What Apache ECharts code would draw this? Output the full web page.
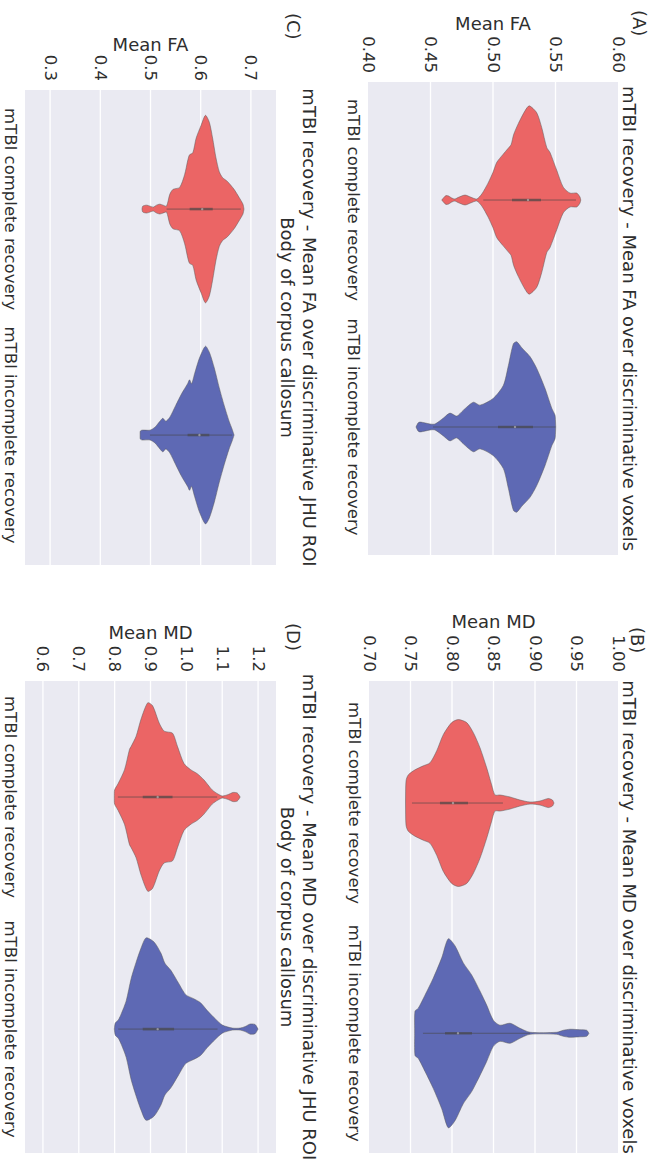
<!DOCTYPE html>
<html><head><meta charset="utf-8">
<script src="https://cdn.jsdelivr.net/npm/echarts@6/dist/echarts.min.js"></script>
<style>
html,body{margin:0;padding:0;width:663px;height:1168px;overflow:hidden;background:#fff;}
#chart{position:absolute;left:0;top:0;width:1168px;height:663px;transform-origin:0 0;transform:translate(663px,0) rotate(90deg);}
</style></head><body><div id="chart"></div>
<script>
// ---------- data ----------
const categories = ['mTBI complete recovery', 'mTBI incomplete recovery'];
const panelLetters = ['(A)', '(B)', '(C)', '(D)'];
const panelTitles = [
  ['mTBI recovery - Mean FA over discriminative voxels'],
  ['mTBI recovery - Mean MD over discriminative voxels'],
  ['mTBI recovery - Mean FA over discriminative JHU ROI', 'Body of corpus callosum'],
  ['mTBI recovery - Mean MD over discriminative JHU ROI', 'Body of corpus callosum']
];
const yNames = ['Mean FA', 'Mean MD', 'Mean FA', 'Mean MD'];

// tick labels
const faVoxTicks = [0.40, 0.45, 0.50, 0.55, 0.60];
const mdVoxTicks = [0.70, 0.75, 0.80, 0.85, 0.90, 0.95, 1.00];
const faRoiTicks = [0.3, 0.4, 0.5, 0.6, 0.7];
const mdRoiTicks = [0.6, 0.7, 0.8, 0.9, 1.0, 1.1, 1.2];

// violin profiles: [value, relative density (half width)]
const faVoxComplete = [[0.4590,0],[0.4610,3],[0.4624,4.5],[0.4645,4],[0.4670,2],[0.4696,1],[0.4720,2.5],[0.4776,5],[0.4820,3],[0.4870,1],[0.4910,6],[0.4960,17],[0.5000,28],[0.5030,38],[0.5080,46],[0.5120,52],[0.5145,56],[0.5165,66],[0.5202,77],[0.5256,90],[0.5290,95],[0.5350,88],[0.5390,73],[0.5430,53],[0.5456,48],[0.5510,30],[0.5562,13],[0.5616,7],[0.5670,7],[0.5696,3],[0.5702,0]];
const faVoxIncomplete = [[0.4384,0],[0.4400,4],[0.4416,5],[0.4460,4],[0.4496,3],[0.4536,3],[0.4603,9],[0.4656,14],[0.4710,11],[0.4763,17],[0.4843,25],[0.4896,22],[0.5003,29],[0.5083,42],[0.5123,62],[0.5163,84],[0.5190,86],[0.5230,80],[0.5296,71],[0.5350,59],[0.5416,39],[0.5470,19],[0.5496,12],[0.5500,6],[0.5502,0]];
const mdVoxComplete = [[0.7440,0],[0.7446,22],[0.7473,28],[0.7554,33],[0.7654,37],[0.7735,40],[0.7816,52],[0.7895,68],[0.7996,80],[0.8076,83],[0.8177,80],[0.8257,70],[0.8337,55],[0.8418,35],[0.8478,18],[0.8518,8],[0.8578,8],[0.8699,6],[0.8819,3],[0.8940,1],[0.9060,2],[0.9160,4.5],[0.9210,3],[0.9229,0]];
const mdVoxIncomplete = [[0.7550,0],[0.7554,22],[0.7594,25],[0.7675,38],[0.7775,55],[0.7876,75],[0.7955,94],[0.8036,87],[0.8136,70],[0.8237,58],[0.8337,42],[0.8418,28],[0.8498,13],[0.8578,8],[0.8699,10],[0.8819,5],[0.8940,1],[0.9261,1],[0.9341,3],[0.9422,4],[0.9542,3.5],[0.9623,3],[0.9650,0]];
const faRoiComplete = [[0.4830,0],[0.4846,3],[0.4925,4],[0.4990,3],[0.5055,2],[0.5120,4],[0.5187,5],[0.5250,4],[0.5319,3],[0.5384,15],[0.5449,20],[0.5581,22],[0.5680,35],[0.5745,50],[0.5778,55],[0.5843,57],[0.5910,72],[0.6009,85],[0.6094,95],[0.6172,88],[0.6237,72],[0.6304,52],[0.6369,38],[0.6434,32],[0.6533,28],[0.6665,20],[0.6763,12],[0.6842,5],[0.6862,0]];
const faRoiIncomplete = [[0.4793,0],[0.4797,4],[0.4833,5],[0.4990,5],[0.5089,8],[0.5187,14],[0.5246,17],[0.5305,14],[0.5384,18],[0.5502,30],[0.5621,42],[0.5739,52],[0.5778,56],[0.5818,52],[0.5877,62],[0.5975,78],[0.6094,90],[0.6172,84],[0.6271,68],[0.6369,48],[0.6468,30],[0.6566,14],[0.6626,6],[0.6665,0]];
const mdRoiComplete = [[0.7990,0],[0.7999,7],[0.8093,13],[0.8276,27],[0.8414,47],[0.8461,50],[0.8599,60],[0.8737,77],[0.8923,93],[0.9061,90],[0.9243,73],[0.9382,65],[0.9614,63],[0.9752,50],[0.9935,33],[1.0120,27],[1.0305,23],[1.0488,17],[1.0720,7],[1.0880,3],[1.1005,1],[1.1170,2.5],[1.1300,4.5],[1.1420,4],[1.1502,0]];
const mdRoiIncomplete = [[0.7991,0],[0.8018,6],[0.8101,9],[0.8184,15],[0.8323,28],[0.8461,50],[0.8599,66],[0.8737,80],[0.8876,90],[0.9097,86],[0.9290,75],[0.9401,65],[0.9567,58],[0.9788,45],[0.9982,34],[1.0203,30],[1.0396,26],[1.0590,18],[1.0811,10],[1.1005,4],[1.1281,1],[1.1502,1],[1.1640,2.5],[1.1779,5],[1.1917,4.5],[1.2000,0]];

// inner box: [whisker low, q1, median, q3, whisker high]
const faVoxCompleteBox = [0.4922, 0.5152, 0.5280, 0.5384, 0.5664];
const faVoxIncompleteBox = [0.4520, 0.5040, 0.5176, 0.5320, 0.5500];
const mdVoxCompleteBox = [0.7518, 0.7855, 0.8012, 0.8193, 0.8614];
const mdVoxIncompleteBox = [0.7650, 0.7916, 0.8072, 0.8241, 0.8940];
const faRoiCompleteBox = [0.5320, 0.5780, 0.6030, 0.6240, 0.6800];
const faRoiIncompleteBox = [0.4990, 0.5739, 0.5975, 0.6172, 0.6626];
const mdRoiCompleteBox = [0.8090, 0.8784, 0.9200, 0.9614, 1.0858];
const mdRoiIncompleteBox = [0.8100, 0.8784, 0.9200, 0.9658, 1.0870];

// ---------- layout / style ----------
const FONT = '"DejaVu Sans", sans-serif';
const TEXT = '#2e2e2e';
const COLORS = ['#EB6565', '#5E69B4'];
const DENS_SCALE = 229; // density units per category unit

const panels = [
  {grid:{left:82, top:45, width:473, height:250}, xMin:-0.52, xMax:1.564,
   min:0.40, max:0.60, interval:0.05, ticks:faVoxTicks, dec:2,
   profiles:[faVoxComplete, faVoxIncomplete], boxes:[faVoxCompleteBox, faVoxIncompleteBox],
   letter:{x:10, y:24}, titleY:[34], nameX:23},
  {grid:{left:681, top:45, width:472, height:249}, xMin:-0.53, xMax:1.52,
   min:0.70, max:1.00, interval:0.05, ticks:mdVoxTicks, dec:2,
   profiles:[mdVoxComplete, mdVoxIncomplete], boxes:[mdVoxCompleteBox, mdVoxIncompleteBox],
   letter:{x:627, y:26}, titleY:[34], nameX:621},
  {grid:{left:90, top:387, width:475, height:251}, xMin:-0.527, xMax:1.575,
   min:0.25, max:0.75, interval:0.05, ticks:faRoiTicks, dec:1,
   profiles:[faRoiComplete, faRoiIncomplete], boxes:[faRoiCompleteBox, faRoiIncompleteBox],
   letter:{x:13, y:370}, titleY:[354, 376], nameX:44},
  {grid:{left:681, top:387, width:472, height:251}, xMin:-0.5, xMax:1.534,
   min:0.55, max:1.25, interval:0.05, ticks:mdRoiTicks, dec:1,
   profiles:[mdRoiComplete, mdRoiIncomplete], boxes:[mdRoiCompleteBox, mdRoiIncompleteBox],
   letter:{x:623, y:370}, titleY:[354, 376], nameX:632}
];

function catLabel(v) {
  const r = Math.round(v);
  return (Math.abs(v - r) < 1e-6 && categories[r] !== undefined) ? categories[r] : '';
}

const grid = [], xAxis = [], yAxis = [], series = [], graphic = [];
panels.forEach((p, i) => {
  grid.push(Object.assign({show:true, backgroundColor:'#EAEAF2', borderWidth:0}, p.grid));
  xAxis.push({type:'value', gridIndex:i, min:p.xMin, max:p.xMax, splitNumber:4,
    axisLine:{show:false}, axisTick:{show:false}, splitLine:{show:false},
    axisLabel:{formatter: catLabel, showMinLabel:false, showMaxLabel:false, hideOverlap:false,
      color:TEXT, fontFamily:FONT, fontSize:16.5, margin:6}});
  yAxis.push({type:'value', gridIndex:i, min:p.min, max:p.max, interval:p.interval,
    axisLine:{show:false}, axisTick:{show:false}, splitLine:{show:false},
    axisLabel:{color:TEXT, fontFamily:FONT, fontSize:16.5, margin:9,
      formatter: v => p.ticks.some(t => Math.abs(t - v) < 1e-6) ? v.toFixed(p.dec) : ''}});
  // grid lines
  series.push({type:'custom', xAxisIndex:i, yAxisIndex:i, z:1, silent:true, clip:false,
    data: p.ticks.filter(t => t > p.min + 1e-6 && t < p.max - 1e-6).map(t => [0, t]),
    encode:{x:0, y:1},
    renderItem: (params, api) => {
      const cs = params.coordSys;
      const y = api.coord([0, api.value(1)])[1];
      return {type:'line', shape:{x1:cs.x, y1:y, x2:cs.x + cs.width, y2:y},
        style:{stroke:'#ffffff', lineWidth:1.3}};
    }});
  // violins
  series.push({type:'custom', xAxisIndex:i, yAxisIndex:i, z:2, silent:true, clip:false,
    data: p.boxes.map((b, k) => [k, b[2]]),
    encode:{x:0, y:1},
    renderItem: (params, api) => {
      const k = api.value(0);
      const prof = p.profiles[k], box = p.boxes[k];
      const unit = api.size([1, 0])[0];
      const cx = api.coord([k, box[2]])[0];
      const yOf = v => api.coord([k, v])[1];
      const left = [], right = [];
      prof.forEach(([v, d]) => {
        const h = d / DENS_SCALE * unit;
        const y = yOf(v);
        left.push([cx - h, y]); right.push([cx + h, y]);
      });
      const pts = left.concat(right.reverse());
      return {type:'group', children:[
        {type:'polygon', shape:{points:pts, smooth:0.25},
          style:{fill:COLORS[k], stroke:'rgba(90,90,90,0.5)', lineWidth:1}},
        {type:'line', shape:{x1:cx, y1:yOf(box[0]), x2:cx, y2:yOf(box[4])},
          style:{stroke:'rgba(70,70,70,0.6)', lineWidth:1}},
        {type:'line', shape:{x1:cx, y1:yOf(box[1]), x2:cx, y2:yOf(box[3])},
          style:{stroke:'rgba(70,70,70,0.6)', lineWidth:2.6}},
        {type:'circle', shape:{cx:cx, cy:yOf(box[2]), r:1.2},
          style:{fill:'rgba(200,200,200,0.6)'}}
      ]};
    }});
  // texts
  const gx = p.grid.left + p.grid.width / 2;
  const gy = p.grid.top + p.grid.height / 2;
  panelTitles[i].forEach((t, j) => {
    graphic.push({type:'text', x:gx, y:p.titleY[j], silent:true,
      style:{text:t, fill:TEXT, font:'18px ' + FONT, textAlign:'center', textVerticalAlign:'middle'}});
  });
  graphic.push({type:'text', x:p.letter.x, y:p.letter.y, silent:true,
    style:{text:panelLetters[i], fill:TEXT, font:'18px ' + FONT, textAlign:'left', textVerticalAlign:'middle'}});
  graphic.push({type:'text', x:p.nameX, y:gy, rotation:Math.PI / 2, silent:true,
    style:{text:yNames[i], fill:TEXT, font:'18px ' + FONT, textAlign:'center', textVerticalAlign:'middle'}});
});

const chart = echarts.init(document.getElementById('chart'), null, {renderer:'svg', width:1168, height:663});
chart.setOption({animation:false, backgroundColor:'#ffffff', grid, xAxis, yAxis, series, graphic});
</script>
</body></html>
